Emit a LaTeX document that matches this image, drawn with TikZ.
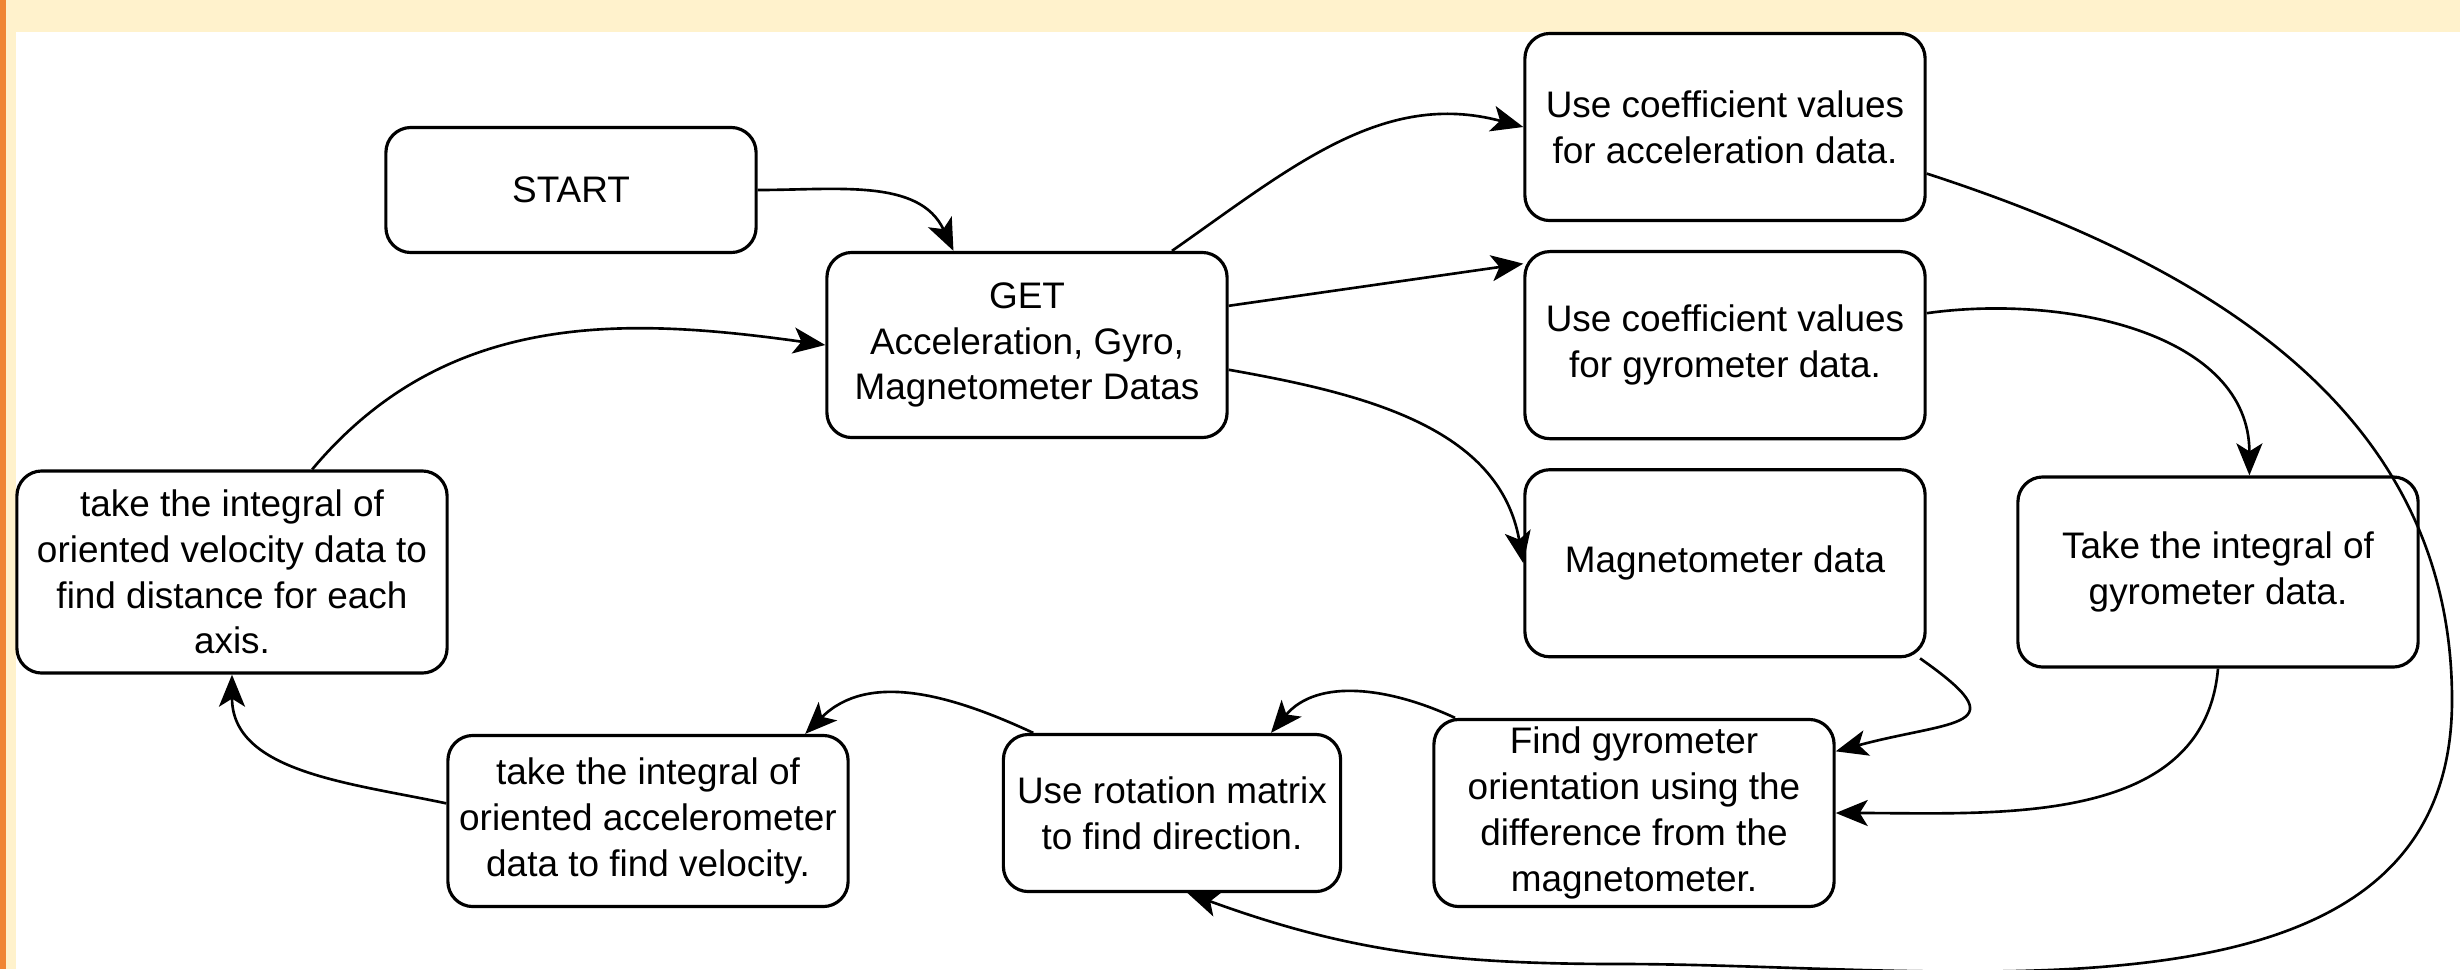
\documentclass[tikz,border=0pt]{standalone}
\usepackage{fontspec}
\setmainfont{Liberation Sans}
\usetikzlibrary{positioning,arrows.meta}

\definecolor{cream}{RGB}{255,242,204}
\definecolor{rim}{RGB}{240,133,52}

\tikzset{
  box/.style={draw, rounded corners=0.25cm, line width=0.9pt, align=center,
    minimum width=4cm, minimum height=1.87cm, inner sep=2pt,
    font=\fontsize{10.5}{13}\selectfont},
  flow/.style={-{Stealth[length=0.32cm,width=0.26cm,inset=0.08cm]}, line width=0.75pt},
}

\begin{document}
\begin{tikzpicture}[x=0.01cm, y=0.01cm, node distance=2.18cm, on grid]
   % page and frame
   \useasboundingbox (0,0) rectangle (2460,-969);
   \fill[white] (0,0) rectangle (2460,-969);
   \fill[cream] (0,0) rectangle (2460,-32);
   \fill[cream] (0,0) rectangle (16,-969);
   \fill[rim] (0,0) rectangle (6,-969);

   \node[box, minimum width=3.7cm, minimum height=1.25cm] (start) at (571,-190) {START};
   \node[box, minimum height=1.85cm] (get) at (1027,-345) {GET\\Acceleration, Gyro,\\Magnetometer Datas};
   \node[box] (acc) at (1725,-127) {Use coefficient values\\for acceleration data.};
   \node[box] (gyr) [below=of acc] {Use coefficient values\\for gyrometer data.};
   \node[box] (mag) [below=of gyr] {Magnetometer data};
   \node[box, minimum height=1.9cm] (gint) at (2218,-572) {Take the integral of\\gyrometer data.};
   \node[box] (orient) at (1634,-813) {Find gyrometer\\orientation using the\\difference from the\\magnetometer.};
   \node[box, minimum width=3.37cm, minimum height=1.57cm] (rot) at (1172,-813) {Use rotation matrix\\to find direction.};
   \node[box, minimum height=1.71cm] (vel) at (648,-821) {take the integral of\\oriented accelerometer\\data to find velocity.};
   \node[box, minimum width=4.3cm, minimum height=2.02cm] (dist) at (232,-572) {take the integral of\\oriented velocity data to\\find distance for each\\axis.};

    \path[flow]
    (start.east) edge [out=0, in=115] (get.128)
    (get.33) edge [out=35, in=165] (acc.west)
    (get.11) edge (gyr.158)
    (get.-7) edge [out=-10, in=100] (mag.west)
    (gyr.9) edge [out=8, in=90] (gint.72)
    (mag.-26) edge [out=-35, in=15, looseness=2.5] (orient.17)
    (gint.south) edge [out=-95, in=0] (orient.east)
    (orient.152) edge [out=155, in=50] (rot.39)
    (rot.150) edge [out=155, in=45] (vel.29)
    (vel.175) edge [out=168, in=-90] (dist.south)
    (dist.52) edge [out=50, in=172] (get.west);

   % acceleration branch back round the right side
   \coordinate (r1) at (2452,-700);
   \coordinate (r2) at (1620,-964);
   \draw[flow] (acc.-13) to[out=-18, in=90] (r1) to[out=-90, in=0] (r2) to[out=180, in=-20] (rot.-79);
\end{tikzpicture}
\end{document}
